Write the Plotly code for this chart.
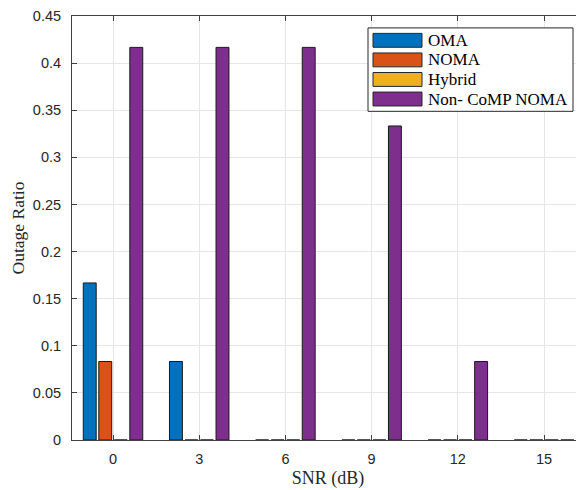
import plotly.graph_objects as go

snr = [0, 3, 6, 9, 12, 15]
series_names = ["OMA", "NOMA", "Hybrid", "Non- CoMP NOMA"]
oma = [0.1667, 0.0833, 0, 0, 0, 0]
noma = [0.0833, 0, 0, 0, 0, 0]
hybrid = [0, 0, 0, 0, 0, 0]
noncomp = [0.4167, 0.4167, 0.4167, 0.3333, 0.0833, 0]
colors = ["#0072BD", "#D95319", "#EDB120", "#7E2F8E"]
yticks = [0, 0.05, 0.1, 0.15, 0.2, 0.25, 0.3, 0.35, 0.4, 0.45]
ytick_text = ["0", "0.05", "0.1", "0.15", "0.2", "0.25", "0.3", "0.35", "0.4", "0.45"]

# page offset from default body margin
OFF = 8
PW, PH = 584, 490
# plot area in page pixels
PL, PR, PT, PB = 72, 584, 13, 440
W, H = PW - OFF, PH - OFF
L, T = PL - OFF, PT - OFF
R = W - (PR - OFF)
B = H - (PB - OFF)
pw, ph = PR - PL, PB - PT

fig = go.Figure()
for name, vals, c in zip(series_names, [oma, noma, hybrid, noncomp], colors):
    fig.add_trace(go.Bar(x=snr, y=vals, name=name, marker=dict(color=c, line=dict(color="#1a1a1a", width=1)),
                         showlegend=False))

def px(x):
    return (x - PL) / pw

def py(y):
    return (PB - y) / ph

shapes = []
annotations = []
shapes.append(dict(type="rect", xref="paper", yref="paper", x0=px(368), x1=px(573), y0=py(109), y1=py(25),
                   line=dict(color="#262626", width=1), fillcolor="white", layer="above"))
for i, (name, c) in enumerate(zip(series_names, colors)):
    top = 30.5 + i * 19.7
    shapes.append(dict(type="rect", xref="paper", yref="paper", x0=px(373), x1=px(422), y0=py(top + 14), y1=py(top),
                       line=dict(color="#262626", width=1), fillcolor=c, layer="above"))
    annotations.append(dict(xref="paper", yref="paper", x=px(426), y=py(top + 7), text=name, showarrow=False,
                            xanchor="left", yanchor="middle",
                            font=dict(family="Liberation Serif", size=17, color="#000")))

fig.update_layout(
    width=W, height=H,
    margin=dict(l=L, r=R, t=T, b=B, pad=0),
    paper_bgcolor="white", plot_bgcolor="white",
    barmode="group", bargap=0.28, bargroupgap=0.167,
    font=dict(family="Liberation Sans", size=14.5, color="#262626"),
    shapes=shapes, annotations=annotations,
    xaxis=dict(range=[-1.427, 16.39], tickmode="array", tickvals=snr, ticktext=[str(s) for s in snr],
               showgrid=True, gridcolor="#e6e6e6", gridwidth=1, zeroline=False,
               showline=True, linecolor="#404040", linewidth=1, mirror="ticks",
               ticks="inside", ticklen=5, tickcolor="#404040", ticklabelstandoff=6,
               title=dict(text="SNR (dB)", font=dict(family="Liberation Serif", size=18, color="#262626"), standoff=4)),
    yaxis=dict(range=[0, 0.45], tickmode="array", tickvals=yticks, ticktext=ytick_text,
               showgrid=True, gridcolor="#e6e6e6", gridwidth=1, zeroline=False,
               showline=True, linecolor="#404040", linewidth=1,
               ticks="inside", ticklen=5, tickcolor="#404040", ticklabelstandoff=7,
               ticklabeloverflow="allow",
               title=dict(text="Outage Ratio", font=dict(family="Liberation Serif", size=17.5, color="#262626"), standoff=8)),
)

fig.write_html("out.html")
